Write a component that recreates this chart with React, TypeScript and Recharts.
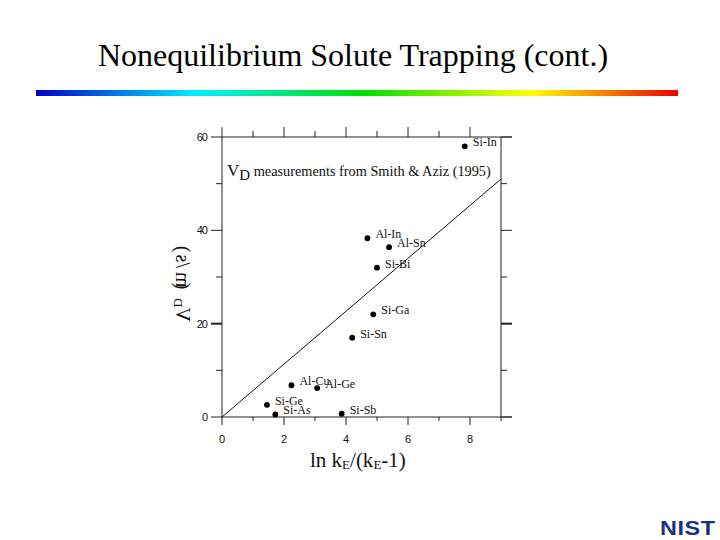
import { ScatterChart, Scatter, XAxis, YAxis, ReferenceLine } from "recharts";

const pairs = ["Si-In", "Al-In", "Al-Sn", "Si-Bi", "Si-Ga", "Si-Sn", "Al-Cu", "Al-Ge", "Si-Ge", "Si-As", "Si-Sb"];
const logK = [7.83, 4.69, 5.39, 5.0, 4.88, 4.2, 2.24, 3.07, 1.45, 1.72, 3.86];
const velocity = [58, 38.3, 36.4, 32, 22, 17, 6.8, 6.2, 2.6, 0.55, 0.7];
const fitX = [0, 9];
const fitY = [0, 51];
const xTicks = [0, 1, 2, 3, 4, 5, 6, 7, 8, 9];
const topTicks = [1, 2, 3, 4, 5, 6, 7, 8];
const yTicks = [0, 10, 20, 30, 40, 50, 60];

const points = pairs.map((name, i) => ({ name, x: logK[i], y: velocity[i] }));
const fit = fitX.map((x, i) => ({ x, y: fitY[i] }));

const ink = "#222";
const serif = "'Liberation Serif', serif";
const sans = "'Liberation Sans', sans-serif";

function XTick({ x, y, payload, side }: any) {
  const major = payload.value % 2 === 0;
  const len = major ? 9 : 5;
  if (side === "top") {
    return <line x1={x} x2={x} y1={y} y2={y - len - 1} stroke={ink} />;
  }
  return (
    <g>
      <line x1={x} x2={x} y1={y} y2={y + len - 1} stroke={ink} />
      {major && payload.value < 9 && (
        <text x={x} y={y + 26} textAnchor="middle" fontFamily={sans} fontSize={11} fill="#111">
          {payload.value}
        </text>
      )}
    </g>
  );
}

function YTick({ x, y, payload, side }: any) {
  const major = payload.value % 20 === 0;
  const len = major ? 11 : 6;
  if (side === "right") {
    return <line x1={x} x2={x + len} y1={y} y2={y} stroke={ink} strokeWidth={payload.value === 20 ? 2 : 1} />;
  }
  return (
    <g>
      <line x1={x} x2={x - len} y1={y} y2={y} stroke={ink} strokeWidth={payload.value === 20 ? 2 : 1} />
      {major && (
        <text x={x - 15} y={y + 4} textAnchor="end" fontFamily={sans} fontSize={11} letterSpacing={-1} fill="#111">
          {payload.value}
        </text>
      )}
    </g>
  );
}

function PairDot({ cx, cy, payload }: any) {
  return (
    <g>
      <circle cx={cx} cy={cy} r={2.9} fill="#000" />
      <text x={cx + 8} y={cy} fontFamily={serif} fontSize={12} fill="#111">
        {payload.name}
      </text>
    </g>
  );
}

function XTitle({ viewBox }: any) {
  return (
    <text x={viewBox.x + 88} y={467} fontFamily={serif} fontSize={21} fill="#111">
      ln k<tspan fontSize={13} dy={2}>E</tspan>
      <tspan dy={-2}>/(k</tspan>
      <tspan fontSize={13} dy={2}>E</tspan>
      <tspan dy={-2}>-1)</tspan>
    </text>
  );
}

// the source slide has this title flipped, glyphs face the plot while it runs upward
function YTitle({ viewBox }: any) {
  return (
    <text
      transform={`translate(${viewBox.x - 45},322) rotate(-90) scale(1,-1)`}
      fontFamily={serif}
      fontSize={20}
      fill="#111"
    >
      V<tspan fontSize={13} dy={2}>D</tspan>
      <tspan dy={-2} dx={9}>(</tspan>
      <tspan dx={-5}>m</tspan>
      <tspan dx={4}>/</tspan>
      <tspan>s</tspan>
      <tspan dx={2}>)</tspan>
    </text>
  );
}

export default function App() {
  return (
    <div style={{ position: "absolute", left: 0, top: 0, width: 720, height: 540, background: "#fff", overflow: "hidden" }}>
      <div style={{ position: "absolute", left: 0, top: 37, width: 706, textAlign: "center", fontFamily: serif, fontSize: 32, lineHeight: "36px", color: "#000", whiteSpace: "nowrap" }}>
        Nonequilibrium Solute Trapping (cont.)
      </div>
      <div
        style={{
          position: "absolute",
          left: 36,
          top: 90,
          width: 642,
          height: 6,
          background: "linear-gradient(to right, #0000cc, #00eeff 25%, #00e000 51%, #ffff00 77%, #ee0000)",
        }}
      />
      <ScatterChart
        width={720}
        height={540}
        margin={{ top: 136, right: 218, bottom: 122, left: 221 }}
        style={{ position: "absolute", left: 0, top: 0 }}
      >
        <XAxis
          xAxisId={0}
          type="number"
          dataKey="x"
          domain={[0, 9]}
          ticks={xTicks}
          height={1}
          tickSize={0}
          tickMargin={0}
          tickLine={false}
          interval={0}
          stroke={ink}
          tick={<XTick />}
          label={{ content: <XTitle /> }}
        />
        <XAxis
          xAxisId="top"
          orientation="top"
          type="number"
          dataKey="x"
          domain={[0, 9]}
          ticks={topTicks}
          height={1}
          tickSize={0}
          tickMargin={0}
          tickLine={false}
          interval={0}
          stroke={ink}
          tick={<XTick side="top" />}
        />
        <YAxis
          yAxisId={0}
          type="number"
          dataKey="y"
          domain={[0, 60]}
          ticks={yTicks}
          width={1}
          tickSize={0}
          tickMargin={0}
          tickLine={false}
          interval={0}
          stroke={ink}
          tick={<YTick />}
          label={{ content: <YTitle /> }}
        />
        <YAxis
          yAxisId="right"
          orientation="right"
          type="number"
          dataKey="y"
          domain={[0, 60]}
          ticks={yTicks}
          width={1}
          tickSize={0}
          tickMargin={0}
          tickLine={false}
          interval={0}
          stroke={ink}
          tick={<YTick side="right" />}
        />
        <ReferenceLine
          ifOverflow="visible"
          segment={[{ x: 0, y: 60 }, { x: 0, y: 62.1 }]}
          stroke={ink}
        />
        <ReferenceLine
          ifOverflow="visible"
          segment={[{ x: 9, y: 0 }, { x: 9.35, y: 0 }]}
          stroke={ink}
        />
        <ReferenceLine
          ifOverflow="visible"
          segment={[{ x: 9, y: 60 }, { x: 9.35, y: 60 }]}
          stroke={ink}
        />
        {/* keeps the top and right axes bound to a series so their ticks get drawn */}
        <Scatter xAxisId="top" yAxisId="right" data={fit} shape={() => <g />} isAnimationActive={false} />
        <Scatter data={fit} line={{ stroke: "#111", strokeWidth: 1 }} shape={() => <g />} isAnimationActive={false} />
        <Scatter data={points} shape={<PairDot />} isAnimationActive={false} />
      </ScatterChart>
      <div style={{ position: "absolute", left: 227, top: 161, fontFamily: serif, fontSize: 14.3, lineHeight: "20px", color: "#111", whiteSpace: "nowrap" }}>
        <span style={{ fontSize: 17 }}>V</span>
        <span style={{ fontSize: 15, position: "relative", top: 4 }}>D</span> measurements from Smith &amp; Aziz (1995)
      </div>
      <div style={{ position: "absolute", left: 660, top: 515, fontFamily: sans, fontWeight: 700, fontSize: 20, lineHeight: "26px", letterSpacing: 0.5, color: "#1c2f86", transform: "scaleX(1.17)", transformOrigin: "left center" }}>
        NIST
      </div>
    </div>
  );
}
